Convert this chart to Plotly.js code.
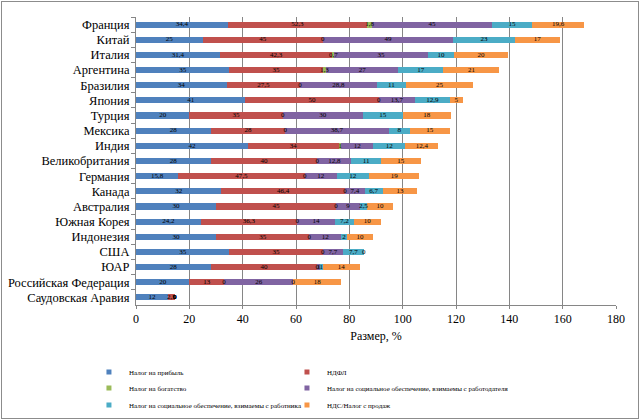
<!DOCTYPE html>
<html>
<head>
<meta charset="utf-8">
<script src="https://cdn.plot.ly/plotly-3.0.1.min.js"></script>
<style>
html,body{margin:0;padding:0;background:#fff}
#chart{width:640px;height:420px}
#frame{position:absolute;left:1px;top:1px;width:636px;height:416px;border:1px solid #8c8c8c;pointer-events:none}
</style>
</head>
<body>
<div id="chart"></div>
<div id="frame"></div>
<script>
const countries = ['Франция','Китай','Италия','Аргентина','Бразилия','Япония','Турция','Мексика','Индия',
  'Великобритания','Германия','Канада','Австралия','Южная Корея','Индонезия','США','ЮАР',
  'Российская Федерация','Саудовская Аравия'];
const profitTax      = [34.4, 25, 31.4, 35, 34,   41,   20, 28,   42, 28,   15.8, 32,   30,  24.2, 30, 35,  28, 20, 12];
const incomeTax      = [52.3, 45, 42.3, 35, 27.5, 50,   35, 28,   34, 40,   47.5, 46.4, 45,  36.3, 35, 35,  40, 13, 2.5];
const wealthTax      = [1.8,  0,  0.7,  1.3, 0,   0,    0,  0,    1,  0,    0,    0,    0,   0,    0,  0,   0,  0,  0];
const socialEmployer = [45,   49, 35,   27, 28.8, 13.7, 30, 38.7, 12, 12.8, 12,   7.4,  9,   14,   12, 7.7, 1,  26, 0];
const socialEmployee = [15,   23, 10,   17, 11,   12.9, 15, 8,    12, 11,   12,   6.7,  2.5, 7.2,  2,  7.7, 1,  0,  0];
const vatTax         = [19.6, 17, 20,   21, 25,   5,    18, 15,   12.4, 15, 19,   13,   10,  10,   10, 0,   14, 18, 0];

const seriesNames = [
  'Налог на прибыль',
  'НДФЛ',
  'Налог на богатство',
  'Налог на социальное обеспечение, взимаемы с работодателя',
  'Налог на социальное обеспечение, взимаемы с работника',
  'НДС/Налог с продаж'
];
const seriesColors = ['#4F81BD','#C0504D','#9BBB59','#8064A2','#4BACC6','#F79646'];
const xTicks = [0,20,40,60,80,100,120,140,160,180];
const xTitle = 'Размер, %';

const series = [profitTax, incomeTax, wealthTax, socialEmployer, socialEmployee, vatTax];
const fmt = v => String(v).replace('.', ',');
const FONT = 'Liberation Serif, Times New Roman, serif';

const traces = [];
series.forEach((vals, k) => {
  traces.push({
    type: 'bar', orientation: 'h', y: countries, x: vals,
    name: seriesNames[k], marker: {color: seriesColors[k]},
    legendgroup: 'g' + k, showlegend: false,
    hovertemplate: '%{y}: %{x}<extra>' + seriesNames[k] + '</extra>'
  });
});
const base = countries.map(() => 0);
series.forEach((vals, k) => {
  const xs = vals.map((v, i) => base[i] + v / 2);
  vals.forEach((v, i) => { base[i] += v; });
  traces.push({
    type: 'scatter', mode: 'text', y: countries, x: xs,
    text: vals.map(fmt), textposition: 'middle center',
    textfont: {family: FONT, size: 7, color: '#000'},
    showlegend: false, hoverinfo: 'skip', legendgroup: 'g' + k
  });
});
const legendIds = ['legend','legend2','legend3','legend4','legend5','legend6'];
series.forEach((vals, k) => {
  traces.push({
    type: 'scatter', mode: 'markers', x: [null], y: [null],
    name: seriesNames[k], legendgroup: 'g' + k, legend: legendIds[k],
    marker: {symbol: 'square', size: 5, color: seriesColors[k]},
    hoverinfo: 'skip'
  });
});

// legend slots: column (container x) and row (container y)
const legendCols = [0.139, 0.4484];
const legendRows = [0.1143, 0.0762, 0.0357];
const legendBase = {
  orientation: 'h', xref: 'container', yref: 'container',
  xanchor: 'left', yanchor: 'middle',
  font: {family: FONT, size: 7, color: '#000'},
  itemwidth: 30, bgcolor: 'rgba(0,0,0,0)'
};

const layout = {
  width: 640, height: 420,
  margin: {l: 136, r: 24, t: 17, b: 115, autoexpand: false},
  barmode: 'stack', bargap: 0.6,
  paper_bgcolor: '#fff', plot_bgcolor: '#fff',
  font: {family: FONT, color: '#000'},
  xaxis: {
    range: [0, 180], tickvals: xTicks, showgrid: true, gridcolor: '#868686', gridwidth: 1,
    zeroline: false, showline: true, linecolor: '#868686', ticks: 'outside', ticklen: 3,
    tickcolor: '#868686', tickfont: {family: FONT, size: 12, color: '#000'},
    title: {text: xTitle, font: {family: FONT, size: 12, color: '#000'}, standoff: 6}
  },
  yaxis: {
    type: 'category', range: [countries.length - 0.5, -0.5],
    tickmode: 'linear', tick0: 0, dtick: 1,
    showgrid: false, showline: true,
    linecolor: '#868686', ticks: 'outside', tickson: 'boundaries', ticklen: 4,
    ticklabelstandoff: 3,
    tickcolor: '#868686', tickfont: {family: FONT, size: 12.5, color: '#000'}
  },
  showlegend: true
};
legendIds.forEach((id, k) => {
  layout[id] = Object.assign({}, legendBase, {x: legendCols[k % 2], y: legendRows[Math.floor(k / 2)]});
});

Plotly.newPlot('chart', traces, layout, {displayModeBar: false});
</script>
</body>
</html>
